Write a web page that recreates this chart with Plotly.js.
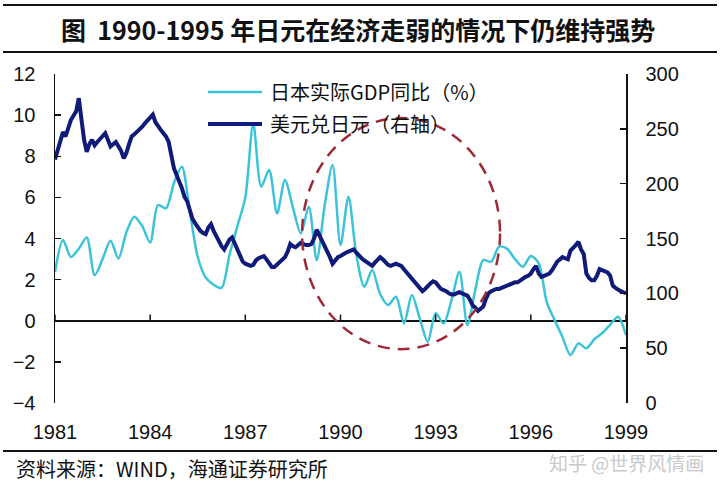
<!DOCTYPE html>
<html><head><meta charset="utf-8">
<script src="https://cdn.plot.ly/plotly-3.0.1.min.js"></script>
<style>body{margin:0;background:#fff}#chart{width:720px;height:488px}</style>
</head><body><div id="chart"></div>
<script>
// ---- data ----
const xTickYears = [1981, 1984, 1987, 1990, 1993, 1996, 1999];
const leftTicks = [-4, -2, 0, 2, 4, 6, 8, 10, 12];
const rightTicks = [0, 50, 100, 150, 200, 250, 300];
const gdpName = '日本实际GDP同比（%）';
const fxName = '美元兑日元（右轴）';
// quarterly real GDP YoY (%), from 1981Q1
const gdpStartYear = 1981;
const gdpYoY = [
  2.37, 3.93, 3.1, 3.5,
  4.05, 2.22, 3.0, 3.89,
  3.03, 4.3, 5.06, 4.6,
  3.8, 5.63, 5.47, 6.7,
  7.49, 5.3, 3.1, 2.1,
  1.75, 1.6, 3.2, 4.6,
  6.0, 9.6, 6.52, 7.33,
  5.22, 6.84, 5.5, 4.25,
  5.54, 2.95, 5.6, 7.57,
  3.68, 6.03, 3.2, 1.65,
  2.47, 1.3, 0.76, 1.17,
  -0.13, 1.25, 0.1, -1.02,
  0.36, -0.13, 1.0, 2.38,
  -0.21, 1.5, 2.95, 2.87,
  3.6, 3.5, 3.0, 2.63,
  3.15, 2.79, 0.92, 0.03,
  -0.8, -1.67, -1.1, -1.34,
  -0.9, -0.6, -0.2, 0.19,
  -0.7
];
// monthly USD/JPY, from Jan 1981
const fxStartYear = 1981;
const usdJpy = [
  222, 230, 238, 247, 243, 250, 258, 262, 266, 278, 256, 240,
  229, 236, 240, 235, 238, 241, 243, 246, 240, 234, 236, 238,
  234, 230, 223, 228, 236, 243, 245, 247, 249, 252, 255, 258,
  260, 263, 256, 252, 249, 246, 243, 238, 225, 214, 208, 203,
  196, 188, 184, 176, 168, 164, 160, 157, 155, 154, 160, 163,
  157, 152, 148, 143, 140, 144, 149, 151, 146, 141, 134, 129,
  127, 126, 125, 126, 130, 132, 133, 134, 131, 127, 124, 124,
  126, 128, 130, 133, 138, 145, 143, 142, 144, 146, 145, 144,
  144, 145, 150, 158, 153, 148, 145, 140, 133, 127, 130, 133,
  134, 136, 137, 138, 139, 140, 137, 134, 132, 130, 128, 126,
  125, 128, 131, 133, 131, 128, 126, 125, 126, 127, 126, 125,
  122, 119, 116, 113, 110, 107, 104, 102, 104, 107, 109, 111,
  110, 107, 104, 103, 102, 100, 99, 99, 100, 101, 100, 99,
  98, 94, 89, 87, 84, 86, 88, 95, 100, 102, 103, 104,
  104, 105, 106, 107, 108, 109, 110, 110, 112, 113, 115, 116,
  118, 122, 125, 118, 115, 116, 117, 118, 121, 126, 129, 131,
  133, 132, 131, 139, 141, 144, 147, 140, 136, 118, 114, 112,
  112, 116, 122, 121, 120, 119, 116, 107, 105, 103, 102, 101,
  100
];

// ---- build ----
const gdpX = gdpYoY.map((_, i) => gdpStartYear + i / 4);
const fxX = usdJpy.map((_, i) => fxStartYear + i / 12);

const CYAN = '#3cc3d8';
const NAVY = '#101a78';
const RED = '#9e2a35';
const TICKFONT = {family: 'Liberation Sans, Arial, sans-serif', size: 20, color: '#111'};
const CJK = 'Noto Sans CJK SC, sans-serif';

const traces = [
  {x: gdpX, y: gdpYoY, type: 'scatter', mode: 'lines', name: gdpName,
   line: {color: CYAN, width: 2.5, shape: 'spline', smoothing: 0.8}, xaxis: 'x', yaxis: 'y'},
  {x: fxX, y: usdJpy, type: 'scatter', mode: 'lines', name: fxName,
   line: {color: NAVY, width: 4}, xaxis: 'x', yaxis: 'y2'}
];

const px2paperX = p => (p - 55) / 571;
const px2paperY = p => (403 - p) / 329;

const shapes = [];
// rules
[5, 52, 451].forEach(py => shapes.push({type: 'line', xref: 'paper', yref: 'paper',
  x0: px2paperX(3), x1: px2paperX(717), y0: px2paperY(py), y1: px2paperY(py),
  line: {color: '#111', width: 2}}));
// x ticks on the zero line
xTickYears.forEach(yr => shapes.push({type: 'line', xref: 'x', yref: 'y',
  x0: yr, x1: yr, y0: 0, y1: 0.3, line: {color: '#111', width: 1.5}}));
// legend samples
[[92, CYAN, 2.5], [124, NAVY, 4]].forEach(([py, c, w]) => shapes.push({type: 'line', xref: 'paper', yref: 'paper',
  x0: px2paperX(208), x1: px2paperX(262), y0: px2paperY(py), y1: px2paperY(py), line: {color: c, width: w}}));
// dashed ellipse
shapes.push({type: 'circle', xref: 'x', yref: 'y', x0: 1988.79, x1: 1995.03, y0: -1.38, y1: 9.86,
  line: {color: RED, width: 2.5, dash: '12px,8px'}});

const annotations = [
  {text: '<b>图  1990-1995 年日元在经济走弱的情况下仍维持强势</b>', xref: 'paper', yref: 'paper',
   x: px2paperX(358), y: px2paperY(29), xanchor: 'center', yanchor: 'middle', showarrow: false,
   font: {family: CJK, size: 25, color: '#111'}},
  {text: gdpName, xref: 'paper', yref: 'paper', x: px2paperX(268), y: px2paperY(92),
   xanchor: 'left', yanchor: 'middle', showarrow: false, font: {family: CJK, size: 20, color: '#111'}},
  {text: fxName, xref: 'paper', yref: 'paper', x: px2paperX(268), y: px2paperY(124),
   xanchor: 'left', yanchor: 'middle', showarrow: false, font: {family: CJK, size: 20, color: '#111'}},
  {text: '资料来源：WIND，海通证券研究所', xref: 'paper', yref: 'paper', x: px2paperX(14), y: px2paperY(468),
   xanchor: 'left', yanchor: 'middle', showarrow: false, font: {family: CJK, size: 20, color: '#111'}},
  {text: '知乎 @世界风情画', xref: 'paper', yref: 'paper', x: px2paperX(706), y: px2paperY(462),
   xanchor: 'right', yanchor: 'middle', showarrow: false, font: {family: CJK, size: 19, color: '#c9c9c9'}}
];

const layout = {
  width: 720, height: 488,
  margin: {l: 55, r: 94, t: 74, b: 85},
  paper_bgcolor: '#fff', plot_bgcolor: '#fff',
  showlegend: false,
  xaxis: {range: [1981, 1999], tickvals: xTickYears, ticktext: xTickYears.map(String),
    showgrid: false, zeroline: false, showline: false,
    ticks: 'outside', ticklen: 11, tickcolor: 'rgba(0,0,0,0)', tickfont: TICKFONT},
  yaxis: {range: [-4, 12], tickvals: leftTicks, showgrid: false,
    zeroline: true, zerolinecolor: '#111', zerolinewidth: 1.5,
    showline: true, linecolor: '#111', linewidth: 1.5,
    ticks: 'inside', ticklen: 6, tickcolor: '#111', tickwidth: 1.5,
    ticklabelstandoff: 14, tickfont: TICKFONT},
  yaxis2: {range: [0, 300], tickvals: rightTicks, overlaying: 'y', side: 'right', anchor: 'x',
    showgrid: false, zeroline: false,
    showline: true, linecolor: '#111', linewidth: 1.5,
    ticks: 'inside', ticklen: 6, tickcolor: '#111', tickwidth: 1.5,
    ticklabelstandoff: 14, tickfont: TICKFONT},
  shapes: shapes,
  annotations: annotations
};

Plotly.newPlot('chart', traces, layout, {staticPlot: true, displayModeBar: false});
</script>
</body></html>
